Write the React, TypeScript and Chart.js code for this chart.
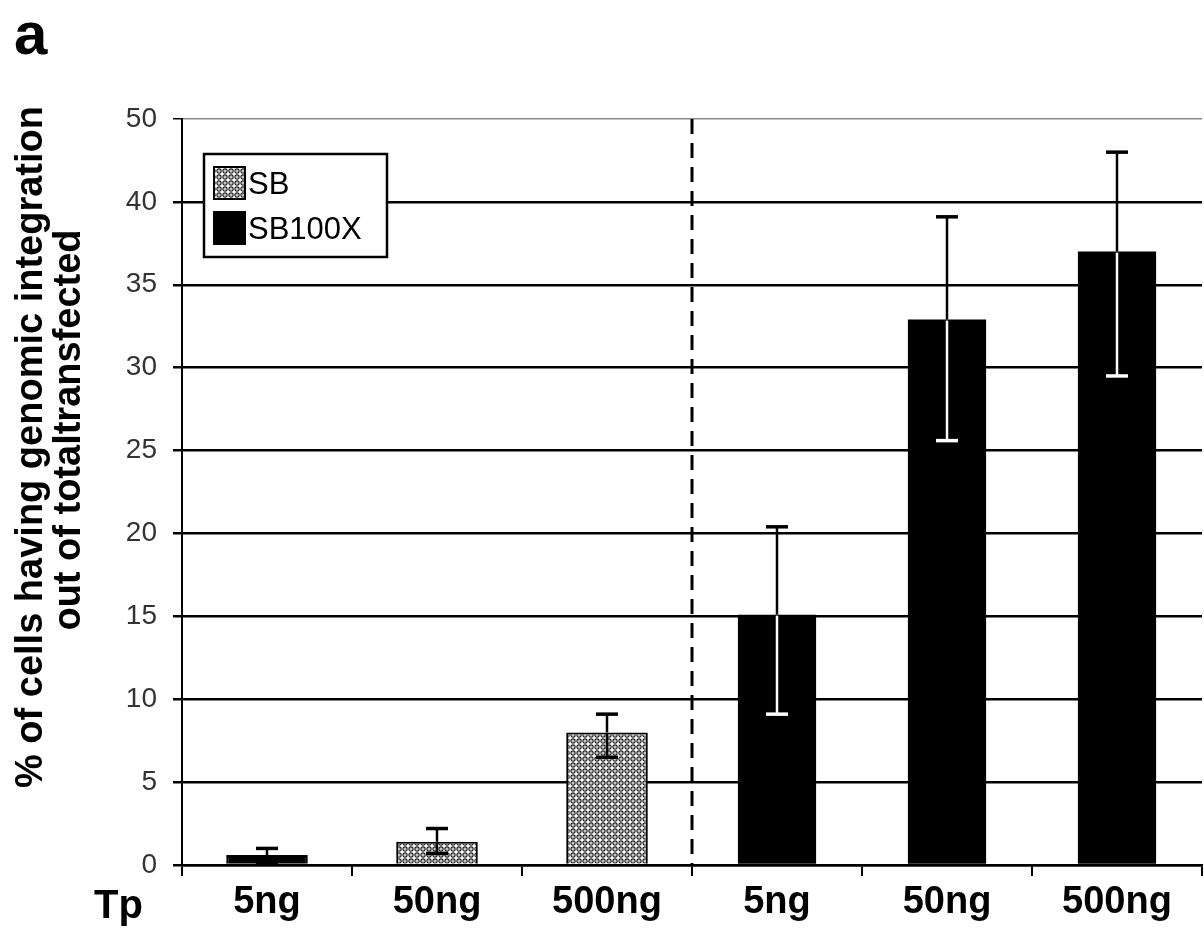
import React, { useEffect, useRef } from "react";
import { Chart, registerables } from "chart.js";

Chart.register(...registerables);

// ---- data ----
const categories = ["5ng", "50ng", "500ng", "5ng", "50ng", "500ng"];
const seriesLabels = ["SB", "SB100X"];
const sbValues = [0.6, 1.4, 8.0, null, null, null];
const sbErrHigh = [1.0, 2.2, 9.1, null, null, null];
const sbErrLow = [0.1, 0.7, 6.5, null, null, null];
const sb100xValues = [null, null, null, 15.1, 32.9, 37.0];
const sb100xErrHigh = [null, null, null, 20.4, 39.1, 43.0];
const sb100xErrLow = [null, null, null, 9.1, 25.6, 29.5];
const yTickLabels = ["0", "5", "10", "15", "20", "25", "30", "35", "40", "50"];
const yTitleLines = ["% of cells having genomic integration", "out of totaltransfected"];
const panelLabel = "a";
const xLeadLabel = "Tp";

const FONT = '"Liberation Sans", Arial, Helvetica, sans-serif';

function makePattern(ctx: CanvasRenderingContext2D) {
  const c = document.createElement("canvas");
  c.width = 6;
  c.height = 6;
  const g = c.getContext("2d")!;
  g.fillStyle = "#ffffff";
  g.fillRect(0, 0, 6, 6);
  g.strokeStyle = "#222";
  g.lineWidth = 1.2;
  g.beginPath();
  g.arc(3, 3, 2.1, 0, Math.PI * 2);
  g.stroke();
  g.fillStyle = "#111";
  g.fillRect(2.5, 2.5, 1, 1);
  return ctx.createPattern(c, "repeat")!;
}

export default function App() {
  const ref = useRef<HTMLCanvasElement | null>(null);

  useEffect(() => {
    document.body.style.margin = "0";
    const canvas = ref.current!;
    const ctx = canvas.getContext("2d")!;
    const pattern = makePattern(ctx);
    const sbFills = sbValues.map((v, i) => (i === 0 ? "#000000" : pattern));

    const errorBars = {
      id: "errorBars",
      afterDatasetsDraw(chart: any) {
        const c = chart.ctx;
        const y = chart.scales.y;
        const specs = [
          { hi: sbErrHigh, lo: sbErrLow, inner: "#000000" },
          { hi: sb100xErrHigh, lo: sb100xErrLow, inner: "#ffffff" },
        ];
        specs.forEach((s, di) => {
          const meta = chart.getDatasetMeta(di);
          meta.data.forEach((el: any, j: number) => {
            const v = chart.data.datasets[di].data[j];
            if (v === null || v === undefined) return;
            const x = el.x;
            const ym = el.y;
            const cap = 11;
            c.save();
            c.lineCap = "butt";
            if (s.hi[j] != null) {
              const yh = y.getPixelForValue(s.hi[j]);
              c.strokeStyle = "#000";
              c.lineWidth = 2.5;
              c.beginPath();
              c.moveTo(x, ym);
              c.lineTo(x, yh);
              c.stroke();
              c.lineWidth = 3.5;
              c.beginPath();
              c.moveTo(x - cap, yh);
              c.lineTo(x + cap, yh);
              c.stroke();
            }
            if (s.lo[j] != null) {
              const yl = y.getPixelForValue(s.lo[j]);
              c.strokeStyle = s.inner;
              c.lineWidth = 2.5;
              c.beginPath();
              c.moveTo(x, ym + 1);
              c.lineTo(x, yl);
              c.stroke();
              c.lineWidth = 3.5;
              c.beginPath();
              c.moveTo(x - cap, yl);
              c.lineTo(x + cap, yl);
              c.stroke();
            }
            c.restore();
          });
        });
      },
    };

    const divider = {
      id: "divider",
      beforeDatasetsDraw(chart: any) {
        const c = chart.ctx;
        const xs = chart.scales.x;
        const area = chart.chartArea;
        const xPos = (xs.getPixelForValue(2) + xs.getPixelForValue(3)) / 2;
        c.save();
        c.strokeStyle = "#000";
        c.lineWidth = 3;
        c.setLineDash([15, 9]);
        c.beginPath();
        c.moveTo(xPos, area.top);
        c.lineTo(xPos, area.bottom);
        c.stroke();
        c.restore();
      },
    };

    const boxLegend = {
      id: "boxLegend",
      afterDatasetsDraw(chart: any) {
        const c = chart.ctx;
        const bx = 204, by = 154, bw = 183, bh = 103;
        c.save();
        c.fillStyle = "#fff";
        c.fillRect(bx, by, bw, bh);
        c.strokeStyle = "#000";
        c.lineWidth = 2.5;
        c.strokeRect(bx, by, bw, bh);
        const swatches = [pattern, chart.data.datasets[1].backgroundColor];
        chart.data.datasets.forEach((ds: any, i: number) => {
          const sy = by + 13 + i * 45;
          c.fillStyle = swatches[i];
          c.fillRect(bx + 10, sy, 31, 32);
          c.strokeStyle = "#000";
          c.lineWidth = 2;
          c.strokeRect(bx + 10, sy, 31, 32);
          c.fillStyle = "#000";
          c.font = `31px ${FONT}`;
          c.textBaseline = "middle";
          c.textAlign = "left";
          c.fillText(ds.label, bx + 44, sy + 18);
        });
        c.restore();
      },
    };

    const texts = {
      id: "texts",
      afterDraw(chart: any) {
        const c = chart.ctx;
        c.save();
        c.fillStyle = "#000";
        c.font = `bold 60px ${FONT}`;
        c.textAlign = "left";
        c.textBaseline = "alphabetic";
        c.fillText(panelLabel, 14, 54);
        c.font = `bold 40px ${FONT}`;
        c.fillText(xLeadLabel, 94, 918);
        c.font = `bold 38px ${FONT}`;
        c.textAlign = "center";
        c.textBaseline = "middle";
        const centers = [
          [32, 447],
          [70, 430],
        ];
        yTitleLines.forEach((t, i) => {
          c.save();
          c.translate(centers[i][0], centers[i][1]);
          c.rotate(-Math.PI / 2);
          c.fillText(t, 0, 0);
          c.restore();
        });
        c.restore();
      },
    };

    const chart = new Chart(canvas, {
      type: "bar",
      data: {
        labels: categories,
        datasets: [
          {
            label: seriesLabels[0],
            data: sbValues,
            backgroundColor: sbFills,
            borderColor: "#000",
            borderWidth: 2,
            grouped: false,
            barPercentage: 0.48,
            categoryPercentage: 1,
          } as any,
          {
            label: seriesLabels[1],
            data: sb100xValues,
            backgroundColor: "#000000",
            borderColor: "#000",
            borderWidth: 0,
            grouped: false,
            barPercentage: 0.46,
            categoryPercentage: 1,
          } as any,
        ],
      },
      options: {
        responsive: false,
        animation: false,
        devicePixelRatio: 1,
        layout: { padding: { top: 119, right: 2, bottom: 0, left: 0 } },
        plugins: {
          legend: { display: false },
          tooltip: { enabled: false },
          title: { display: false },
        },
        scales: {
          x: {
            offset: true,
            grid: {
              offset: true,
              drawOnChartArea: false,
              drawTicks: true,
              tickLength: 11,
              color: "#000",
              lineWidth: 2,
            },
            border: { display: true, color: "#000", width: 2.5 },
            ticks: {
              color: "#000",
              font: { family: FONT, size: 38, weight: "bold" },
              padding: 4,
              maxRotation: 0,
              autoSkip: false,
            },
            afterFit(s: any) {
              s.height = 75;
            },
          },
          y: {
            min: 0,
            max: 45,
            grid: {
              color: (ctx: any) => (ctx.tick && ctx.tick.value === 45 ? "#8a8a8a" : "#000"),
              lineWidth: (ctx: any) => (ctx.tick && ctx.tick.value === 45 ? 1.5 : 2.5),
              drawTicks: true,
              tickLength: 9,
              tickColor: "#000",
            },
            border: { display: true, color: "#000", width: 2 },
            ticks: {
              stepSize: 5,
              color: "#333",
              font: { family: FONT, size: 28 },
              padding: 16,
              callback: (_v: any, i: number) => yTickLabels[i],
            },
            afterFit(s: any) {
              s.width = 182;
            },
          },
        },
      } as any,
      plugins: [divider, errorBars, boxLegend, texts],
    });
    return () => chart.destroy();
  }, []);

  return <canvas ref={ref} width={1204} height={940} style={{ display: "block" }} />;
}
